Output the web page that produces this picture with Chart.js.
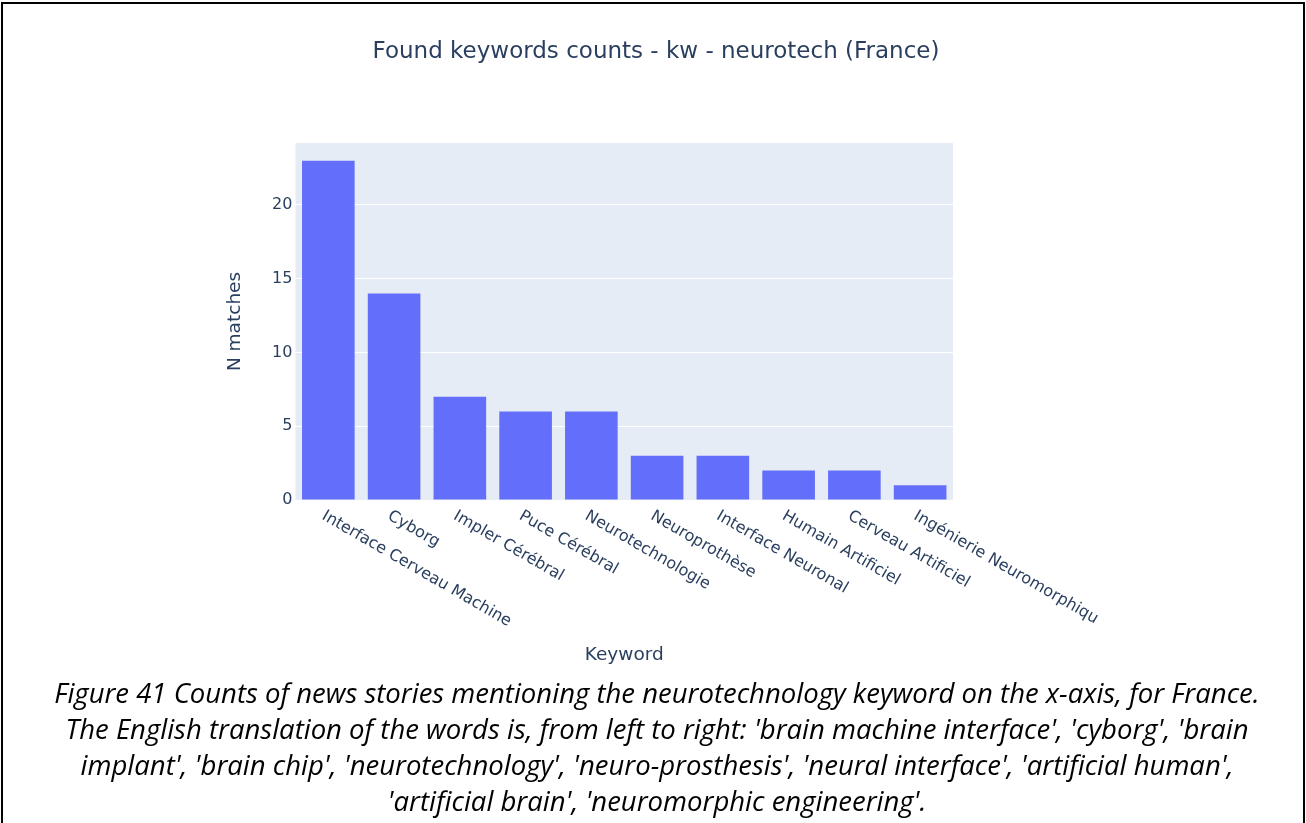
<!DOCTYPE html>
<html>
<head>
<meta charset="utf-8">
<script src="https://cdn.jsdelivr.net/npm/chart.js@4"></script>
<style>
  body { margin: 0; background: #fff; width: 1306px; height: 823px; overflow: hidden; position: relative; }
  #frame { position: absolute; left: 1px; top: 2px; width: 1300px; height: 900px; border: 2px solid #000; border-bottom: none; }
  #chart { position: absolute; left: 0; top: 0; }
  #title {
    position: absolute; left: 0; top: 35px; width: 1312px; text-align: center;
    font-family: "DejaVu Sans", sans-serif; font-size: 23px; line-height: 30px; color: #2a3f5f;
  }
  #caption {
    position: absolute; left: 0; top: 675px; width: 1314px; text-align: center;
    font-family: "Open Sans", sans-serif; font-style: italic; font-size: 27.5px; line-height: 36px; color: #000;
  }
</style>
</head>
<body>
<div id="frame"></div>
<canvas id="chart" width="1306" height="823"></canvas>
<div id="title">Found keywords counts - kw - neurotech (France)</div>
<div id="caption">Figure 41 Counts of news stories mentioning the neurotechnology keyword on the x-axis, for France.<br>The English translation of the words is, from left to right: 'brain machine interface', 'cyborg', 'brain<br>implant', 'brain chip', 'neurotechnology', 'neuro-prosthesis', 'neural interface', 'artificial human',<br>'artificial brain', 'neuromorphic engineering'.</div>
<script>
const keywords = ['Interface Cerveau Machine', 'Cyborg', 'Impler Cérébral', 'Puce Cérébral', 'Neurotechnologie',
    'Neuroprothèse', 'Interface Neuronal', 'Humain Artificiel', 'Cerveau Artificiel', 'Ingénierie Neuromorphiqu'];
const counts = [23, 14, 7, 6, 6, 3, 3, 2, 2, 1];
const yTicks = [0, 5, 10, 15, 20];

const textColor = '#2a3f5f';
Chart.defaults.font.family = '"DejaVu Sans", sans-serif';

// fond gris-bleu de la zone de tracé
const plotBg = {
    id: 'plotBg',
    beforeDraw(chart) {
        const { ctx, chartArea: a } = chart;
        ctx.save();
        ctx.fillStyle = '#E5ECF6';
        ctx.fillRect(a.left, a.top, a.right - a.left, a.bottom - a.top);
        ctx.restore();
    }
};

// étiquettes inclinées vers le bas à droite
const slantedLabels = {
    id: 'slantedLabels',
    afterDraw(chart) {
        const ctx = chart.ctx;
        const x = chart.scales.x;
        ctx.save();
        ctx.font = '16px "DejaVu Sans", sans-serif';
        ctx.fillStyle = textColor;
        ctx.textAlign = 'left';
        ctx.textBaseline = 'middle';
        keywords.forEach((k, i) => {
            ctx.save();
            ctx.translate(x.getPixelForTick(i), x.top + 18);
            ctx.rotate(Math.PI / 6);
            ctx.fillText(k, -6, 0);
            ctx.restore();
        });
        ctx.restore();
    }
};

new Chart(document.getElementById('chart'), {
    type: 'bar',
    data: {
        labels: keywords,
        datasets: [{
            data: counts,
            backgroundColor: '#636efa',
            borderWidth: 0,
            barPercentage: 0.8,
            categoryPercentage: 1
        }]
    },
    options: {
        responsive: false,
        animation: false,
        layout: { padding: { top: 143, left: 223.9, right: 353, bottom: 156.9 } },
        plugins: {
            legend: { display: false },
            tooltip: { enabled: false }
        },
        scales: {
            x: {
                grid: { display: false, drawTicks: false },
                border: { display: false },
                ticks: { display: false },
                title: { display: true, text: 'Keyword', color: textColor, font: { size: 18.5 }, padding: { top: 143.9, bottom: 0 } }
            },
            y: {
                min: 0,
                max: 24.2,
                afterBuildTicks: s => { s.ticks = yTicks.map(v => ({ value: v })); },
                ticks: { color: textColor, font: { size: 16 }, padding: 3 },
                grid: { color: '#ffffff', lineWidth: 1, drawTicks: false },
                border: { display: false },
                title: { display: true, text: 'N matches', color: textColor, font: { size: 18.5 }, padding: { top: 0, bottom: 23 } }
            }
        }
    },
    plugins: [plotBg, slantedLabels]
});
</script>
</body>
</html>
